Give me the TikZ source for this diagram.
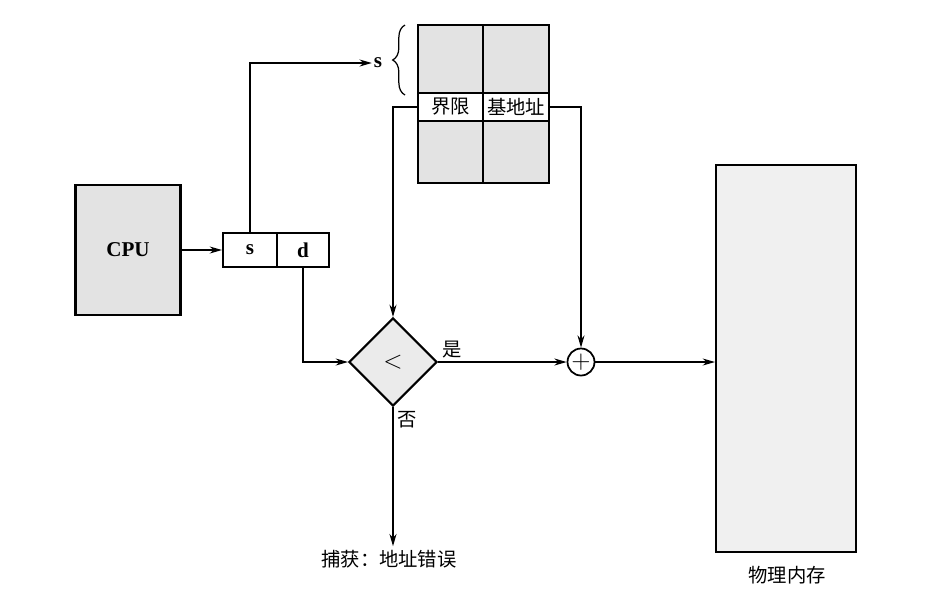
\documentclass[tikz,border=0pt]{standalone}
\usepackage{fontspec}
\setmainfont{Liberation Serif}
\newfontfamily\cjk{Noto Sans CJK SC}
\usetikzlibrary{shapes.geometric,decorations.pathreplacing,arrows.meta}

\begin{document}
\begin{tikzpicture}[
        x=0.02cm, y=-0.02cm,
        >={Stealth[length=7pt,width=4pt]},
        font=\fontsize{12}{14}\selectfont,
        % Blöcke
        box/.style={draw=black, line width=1.2pt, rectangle, inner sep=0pt},
        shade/.style={fill=black!11},
        cell/.style={box, minimum width=1.31cm},
        cjklabel/.style={font=\cjk\fontsize{11}{13}\selectfont, inner sep=2pt},
        signal/.style={->, line width=0.7pt}
    ]
    \useasboundingbox (0,0) rectangle (930,600);

    % ==========================================
    % Knoten
    % ==========================================

    % CPU und logische Adresse
    \node[box, shade, minimum width=2.1cm, minimum height=2.6cm] (cpu) at (128, 250) {\textbf{CPU}};
    \node[box, minimum width=1.08cm, minimum height=0.68cm] (segs) at (250, 250) {\textbf{s}};
    \node[box, minimum width=1.04cm, minimum height=0.68cm] (segd) at (303, 250) {\textbf{d}};

    % Segmenttabelle
    \node[cell, shade, minimum height=1.36cm] (limtop)  at (450.5, 59) {};
    \node[cell, shade, minimum height=1.36cm] (basetop) at (516, 59) {};
    \node[cell, minimum height=0.56cm, font=\cjk\fontsize{11}{13}\selectfont] (limmid)  at (450.5, 107) {界限};
    \node[cell, minimum height=0.56cm, font=\cjk\fontsize{11}{13}\selectfont] (basemid) at (516, 107) {基地址};
    \node[cell, shade, minimum height=1.24cm] (limbot)  at (450.5, 152) {};
    \node[cell, shade, minimum height=1.24cm] (basebot) at (516, 152) {};
    \node[inner sep=1pt] (slabel) at (378, 63) {\textbf{s}};

    % Vergleich, Addierer, Speicher
    \node[draw, line width=1.2pt, diamond, aspect=1, inner sep=0pt, minimum size=1.76cm, fill=black!8, font=\fontsize{15}{15}\selectfont] (cmp) at (393, 362) {$<$};
    \node[draw, line width=1pt, circle, inner sep=0pt, minimum size=0.54cm, font=\fontsize{14}{14}\selectfont] (add) at (581, 362) {$+$};
    \node[box, fill=black!6, minimum width=2.8cm, minimum height=7.74cm] (mem) at (786, 358.5) {};
    \node[cjklabel] (memlabel) at (787, 575) {物理内存};
    \node[cjklabel] (trap) at (389, 559) {捕获：地址错误};

    % ==========================================
    % Verbindungen
    % ==========================================
    \draw[signal] (cpu.east |- segs.west) -- (segs.west);
    \draw[signal] (segs.north) |- (slabel.west);
    \draw[decorate, decoration={brace, amplitude=7pt}, line width=0.7pt] (405, 95) -- (405, 25);

    \draw[signal] (limmid.west) -| (cmp.north);
    \draw[signal] (basemid.east) -| (add.north);
    \draw[signal] (segd.south) |- (cmp.west);

    \draw[signal] (cmp.east) -- (add.west) node[pos=0, above right, cjklabel] {是};
    \draw[signal] (add.east) -- (add.east -| mem.west);
    \draw[signal] (cmp.south) -- (cmp.south |- trap.north) node[pos=0, below right, cjklabel] {否};

\end{tikzpicture}
\end{document}
